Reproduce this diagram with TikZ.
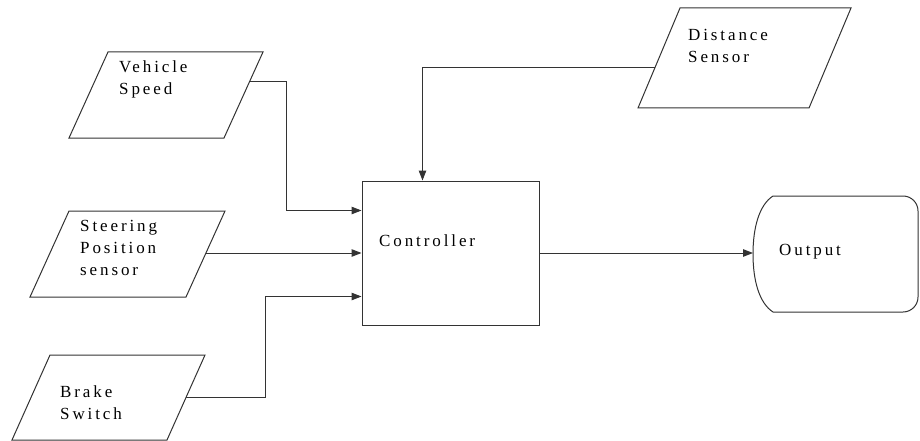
\documentclass[tikz,border=0pt]{standalone}
\usepackage{fontspec}
\setmainfont{Liberation Serif}
\newfontfamily\diafont{Liberation Serif}[LetterSpace=17]
\usetikzlibrary{arrows.meta,calc}
\begin{document}
\begin{tikzpicture}[x=1pt,y=-1pt,
  shp/.style={draw=black!80, line width=1pt, fill=white},
  txt/.style={anchor=base west, inner sep=0pt, font=\diafont\fontsize{17}{22}\selectfont, align=left},
  arr/.style={draw=black!80, line width=1pt, -{Triangle[length=10pt,width=7.5pt]}},
  box/.style={draw=black!80, line width=1pt, fill=white, minimum width=177pt, minimum height=144pt, inner sep=0pt}]
\useasboundingbox (0,0) rectangle (920,441);
% Vehicle Speed
\draw[shp] (108,52) -- (263,52) -- (224,138) -- (69,138) -- cycle;
\coordinate (vs) at (250,82);
\node[txt] (vtext) at (119,95) {Vehicle\\Speed};
% Steering
\draw[shp] (69,211) -- (225,211) -- (186,297) -- (30,297) -- cycle;
\coordinate (ss) at (206,253);
\node[txt] (stext) at (80,275) {Steering\\Position\\sensor};
% Brake
\draw[shp] (50,355) -- (205,355) -- (167,440) -- (12,440) -- cycle;
\coordinate (bs) at (186,397);
\node[txt] (btext) at (60,419) {Brake\\Switch};
% Distance
\draw[shp] (680,8) -- (851,8) -- (809,108) -- (638,108) -- cycle;
\coordinate (ds) at (655,68);
\node[txt] (dtext) at (688,63) {Distance\\Sensor};
% Controller
\node[box] (ctrl) at (450.5,253) {};
\node[txt] (ctext) at (379,246) {Controller};
% Output
\draw[shp] (773,196) -- (903,196) arc[start angle=90,end angle=0,radius=15pt] -- (918,297)
  arc[start angle=0,end angle=-90,radius=15pt] -- (773,312)
  .. controls (759,303) and (753,280) .. (753,254)
  .. controls (753,228) and (759,205) .. (773,196) -- cycle;
\coordinate (outw) at (753,253);
\node[txt] (otext) at (779,255) {Output};
% connectors
\coordinate (in1) at ($(ctrl.north west)+(0,30)$);
\coordinate (in3) at ($(ctrl.north west)+(0,116)$);
\coordinate (in4) at ($(ctrl.north west)+(61,0)$);
\draw[arr] (vs) -- ++(36,0) |- (in1);
\draw[arr] (ss) -- (ss -| ctrl.west);
\draw[arr] (bs) -- ++(79,0) |- (in3);
\draw[arr] (ds) -| (in4);
\draw[arr] (ctrl.east) -- (outw);
\end{tikzpicture}
\end{document}
